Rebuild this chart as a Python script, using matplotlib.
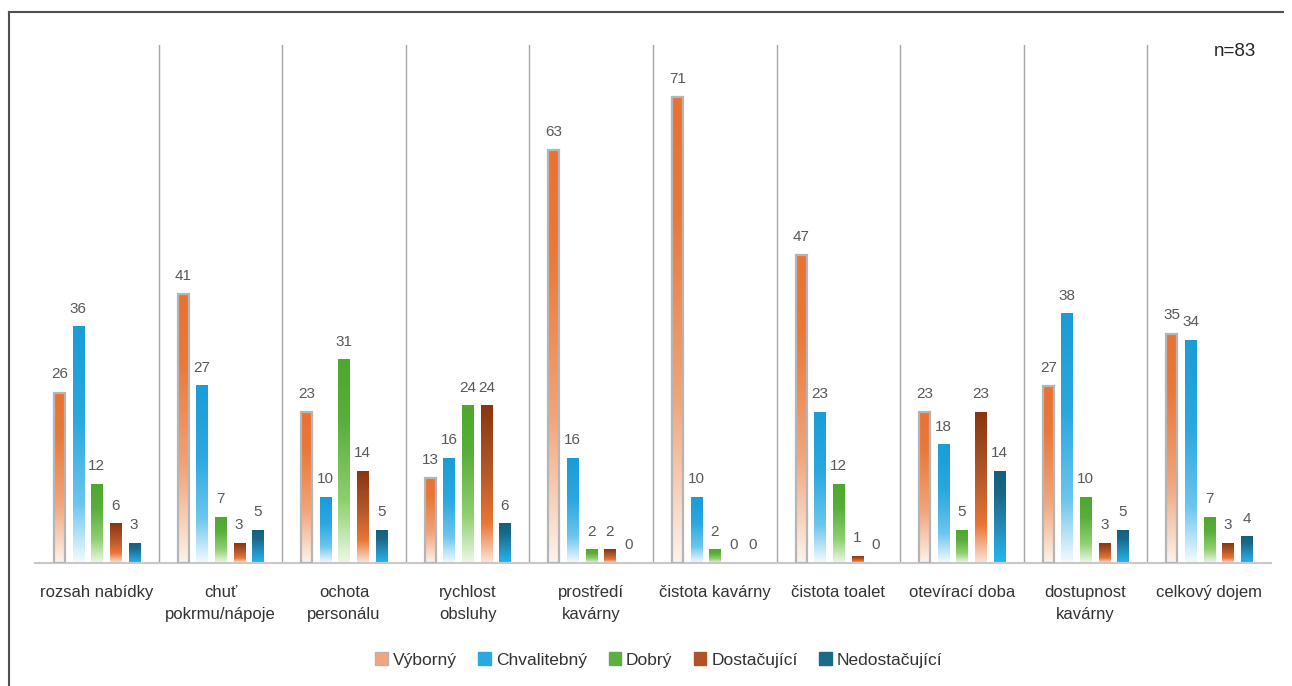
import numpy as np
import matplotlib
matplotlib.use('Agg')
import matplotlib.pyplot as plt
from matplotlib.colors import LinearSegmentedColormap
from matplotlib.patches import Patch, Rectangle
from matplotlib.lines import Line2D

plt.rcParams['font.family'] = ['Liberation Sans', 'DejaVu Sans']

categories = ['rozsah nabídky', 'chuť\npokrmu/nápoje', 'ochota\npersonálu',
              'rychlost\nobsluhy', 'prostředí\nkavárny', 'čistota kavárny',
              'čistota toalet', 'otevírací doba', 'dostupnost\nkavárny',
              'celkový dojem']
series = ['Výborný', 'Chvalitebný', 'Dobrý', 'Dostačující', 'Nedostačující']

vyborny       = [26, 41, 23, 13, 63, 71, 47, 23, 27, 35]
chvalitebny   = [36, 27, 10, 16, 16, 10, 23, 18, 38, 34]
dobry         = [12,  7, 31, 24,  2,  2, 12,  5, 10,  7]
dostacujici   = [ 6,  3, 14, 24,  2,  0,  1, 23,  3,  3]
nedostacujici = [ 3,  5,  5,  6,  0,  0,  0, 14,  5,  4]
values = [vyborny, chvalitebny, dobry, dostacujici, nedostacujici]

# gradient stops, bottom -> top
grad = [
    [(0.0, '#fdf3ec'), (0.35, '#f2a47a'), (0.75, '#ea7838'), (1.0, '#e97132')],
    [(0.0, '#f4fbff'), (0.25, '#6cc6ee'), (0.6, '#2aa8e0'), (1.0, '#1a9cd6')],
    [(0.0, '#eef8e8'), (0.3, '#8fd070'), (0.7, '#58ae3a'), (1.0, '#4ea72e')],
    [(0.0, '#fce6d8'), (0.25, '#ea7535'), (0.6, '#b0562a'), (1.0, '#8a3510')],
    [(0.0, '#22b8f0'), (0.35, '#2590be'), (0.75, '#1a6888'), (1.0, '#155f7e')],
]
legend_colors = ['#f2a47a', '#2aa8e0', '#5bb040', '#b0522a', '#1a6a8a']
n_text = 'n=83'

fig = plt.figure(figsize=(12.92, 6.86), dpi=100)
ax = fig.add_axes([35/1292, 1-563/686, 1236/1292, 518/686])

step = 0.151
width = 0.09
x = np.arange(len(categories))
for i, vals in enumerate(values):
    cmap = LinearSegmentedColormap.from_list('g%d' % i, grad[i])
    g = np.linspace(0, 1, 256).reshape(-1, 1)
    for j, v in enumerate(vals):
        xc = x[j] + (i - 2) * step
        if v > 0:
            ax.imshow(g, cmap=cmap, origin='lower', aspect='auto',
                      extent=(xc - width/2, xc + width/2, 0, v), zorder=2,
                      interpolation='bilinear')
            if i == 0:
                ax.add_patch(Rectangle((xc - width/2, 0), width, v, fill=False,
                                       ec='#b5b5b5', lw=1.6, zorder=3))
        ax.annotate(str(v), (xc, v), xytext=(0, 8), textcoords='offset points',
                    ha='center', va='bottom', fontsize=11, color='#595959')

for k in range(len(categories) - 1):
    ax.plot([k + 0.5, k + 0.5], [0, 79], color='#a6a6a6', lw=1, zorder=1)

ax.set_xlim(-0.5, len(categories) - 0.5)
ax.set_ylim(0, 79)
ax.set_yticks([])
ax.set_xticks(x)
ax.set_xticklabels(categories, fontsize=12, color='#333333', linespacing=1.55, va='top')
ax.tick_params(axis='x', length=0, pad=16)
for s in ['top', 'right', 'left']:
    ax.spines[s].set_visible(False)
ax.spines['bottom'].set_color('#c8c8c8')
ax.spines['bottom'].set_linewidth(1.5)

handles = [Patch(facecolor=c, edgecolor=('#b5b5b5' if k == 0 else c))
           for k, c in enumerate(legend_colors)]
fig.legend(handles, series, loc='center', bbox_to_anchor=(0.51, 1-660/686), ncol=5,
           frameon=False, fontsize=12.5, handlelength=0.7, handleheight=0.7,
           handletextpad=0.3, columnspacing=1.25, labelcolor='#333333')

fig.text(1235/1292, 1-52/686, n_text, ha='center', va='center', fontsize=13.5, color='#262626')

# outer frame
fig.add_artist(Line2D([9/1292, 9/1292], [0, 1-12/686], transform=fig.transFigure,
                      color='#505050', lw=1.5))
fig.add_artist(Line2D([9/1292, 1283/1292], [1-12/686, 1-12/686], transform=fig.transFigure,
                      color='#505050', lw=1.5))

fig.savefig('out.png', dpi=100)
